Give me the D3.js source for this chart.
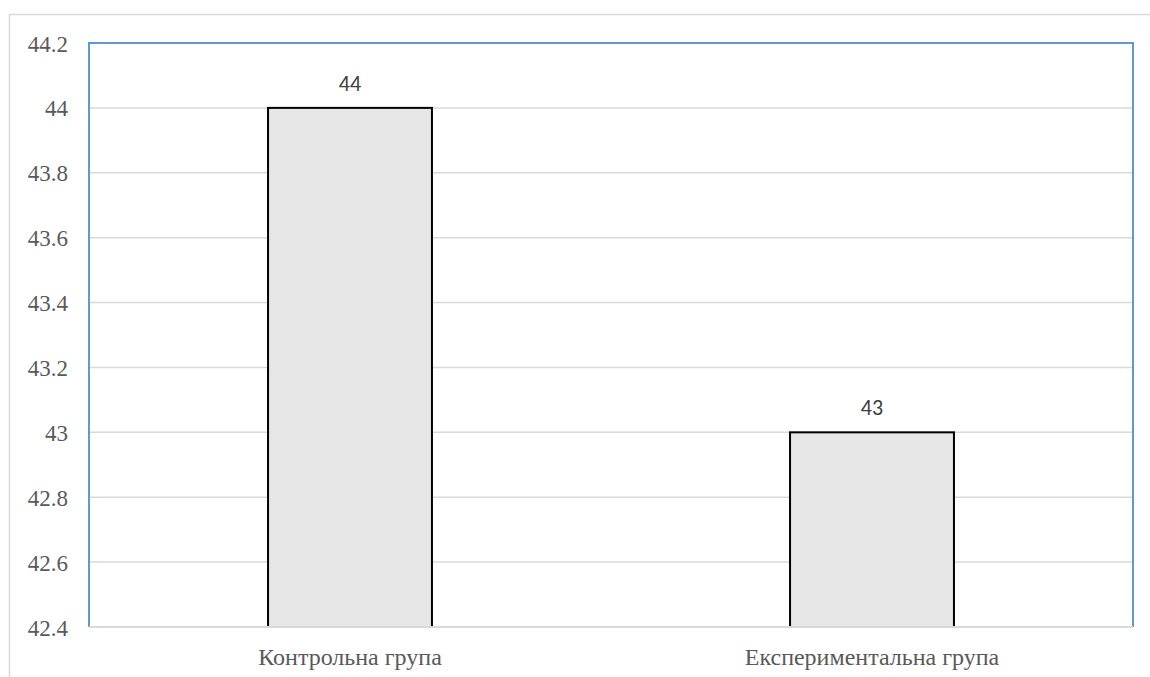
<!DOCTYPE html>
<html><head><meta charset="utf-8">
<script src="https://cdn.jsdelivr.net/npm/d3@7"></script>
<style>html,body{margin:0;padding:0;background:#fff;}</style>
</head><body>
<svg id="chart" width="1150" height="677"></svg>
<script>
const categories = ["Контрольна група", "Експериментальна група"];
const values = [44, 43];
const yTicks = [42.4, 42.6, 42.8, 43, 43.2, 43.4, 43.6, 43.8, 44, 44.2];

const SERIF = "'Liberation Serif', 'Times New Roman', serif";
const SANS = "Carlito, Calibri, 'Liberation Sans', sans-serif";

const svg = d3.select("#chart");
const m = {left: 89, top: 43, right: 1133, bottom: 627};

// outer chart border
svg.append("rect").attr("x", 9.5).attr("y", 14.5).attr("width", 1150).attr("height", 700)
  .attr("fill", "#fff").attr("stroke", "#d9d9d9").attr("stroke-width", 1.5);

const x = d3.scaleBand().domain(categories).range([m.left, m.right]).paddingInner(0.686).paddingOuter(0.343);
const y = d3.scaleLinear().domain([42.4, 44.2]).range([m.bottom, m.top]);

// gridlines
svg.append("g").selectAll("line").data(yTicks).join("line")
  .attr("x1", m.left).attr("x2", m.right)
  .attr("y1", d => y(d)).attr("y2", d => y(d))
  .attr("stroke", "#d9d9d9").attr("stroke-width", 1.5);

// y tick labels
svg.append("g").selectAll("text").data(yTicks).join("text")
  .attr("x", 68).attr("y", d => y(d) + 8.5)
  .attr("text-anchor", "end")
  .style("font-family", SERIF)
  .style("font-size", "23px").attr("fill", "#595959")
  .text(d => String(+d.toFixed(1)));

// bars
svg.append("g").selectAll("rect").data(values).join("rect")
  .attr("x", (d, i) => x(categories[i]))
  .attr("width", x.bandwidth())
  .attr("y", d => y(d))
  .attr("height", d => y(42.4) - y(d))
  .attr("fill", "#e6e6e6").attr("stroke", "#000").attr("stroke-width", 2);

// value labels
svg.append("g").selectAll("text").data(values).join("text")
  .attr("x", (d, i) => x(categories[i]) + x.bandwidth() / 2)
  .attr("y", d => y(d) - 17)
  .attr("text-anchor", "middle")
  .style("font-family", SANS)
  .style("font-size", "22px").attr("fill", "#404040")
  .text(d => d);

// plot area border (blue) left, top, right
svg.append("path")
  .attr("d", `M${m.left},${m.bottom}V${m.top}H${m.right}V${m.bottom}`)
  .attr("fill", "none").attr("stroke", "#5b9bd5").attr("stroke-width", 2);
// bottom axis line
svg.append("line").attr("x1", m.left).attr("x2", m.right).attr("y1", m.bottom).attr("y2", m.bottom)
  .attr("stroke", "#d9d9d9").attr("stroke-width", 2);

// category labels
svg.append("g").selectAll("text").data(categories).join("text")
  .attr("x", d => x(d) + x.bandwidth() / 2)
  .attr("y", 665)
  .attr("text-anchor", "middle")
  .style("font-family", SERIF)
  .style("font-size", "24px").attr("fill", "#595959")
  .text(d => d);
</script>
</body></html>
